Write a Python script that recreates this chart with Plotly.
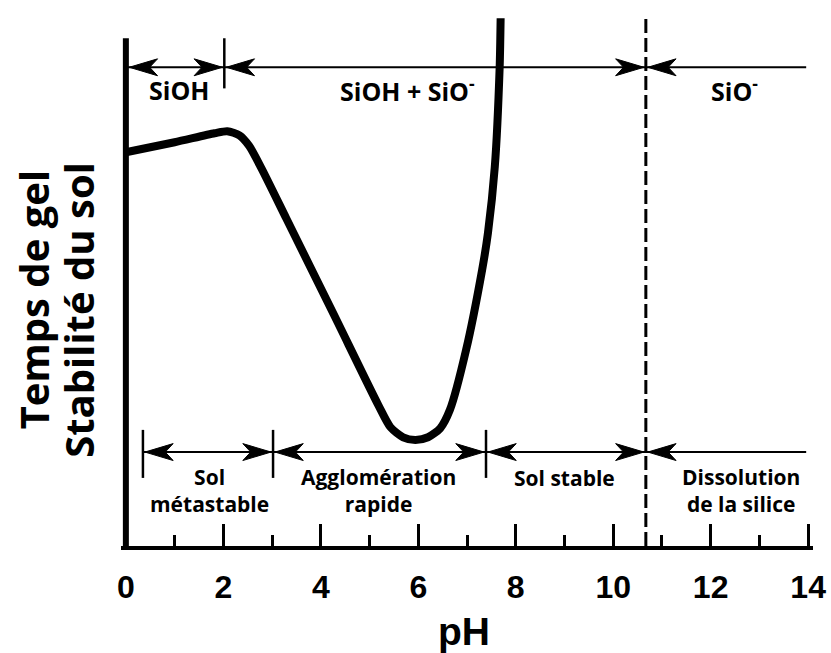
import plotly.graph_objects as go

# ---------------- data ----------------
ph = [0.0, 1.0, 1.82, 2.08, 2.33, 2.53, 2.78, 3.29, 4.27, 5.18, 5.43, 5.69, 5.94,
      6.20, 6.45, 6.65, 6.98, 7.31, 7.43, 7.57, 7.67, 7.69]
stability = [74.6, 76.5, 78.2, 78.6, 77.8, 75.8, 71.6, 62.1, 43.8, 26.7, 22.5, 20.6, 20.1,
             20.6, 22.3, 25.8, 37.1, 52.3, 59.3, 71.8, 90.7, 100.0]

x_major_ticks = [0, 2, 4, 6, 8, 10, 12, 14]
x_tick_labels = ["0", "2", "4", "6", "8", "10", "12", "14"]
x_minor_ticks = [1, 3, 5, 7, 9, 11, 13]

species_bounds = [0.0, 2.02, 10.67]
species_labels = ["SiOH", "SiOH + SiO<sup>-</sup>", "SiO<sup>-</sup>"]
species_label_ph = [1.08, 5.78, 12.49]

regime_bounds = [0.35, 3.02, 7.39, 10.67]
regime_labels = ["Sol<br>métastable", "Agglomération<br>rapide", "Sol stable",
                 "Dissolution<br>de la silice"]
regime_label_ph = [1.71, 5.18, 9.0, 12.63]
regime_label_y = [10.6, 10.6, 12.8, 10.6]

y_title_lines = ["Temps de gel", "Stabilité du sol"]
x_title = "pH"

pka_ph = 10.67
line_end_ph = 13.96

# ---------------- layout constants ----------------
TOP_Y = 90.7
TOP_LABEL_Y = 86.4
TOP_TICK = (86.7, 96.2)
BOT_Y = 17.8
BOT_TICK = (12.9, 22.0)
AXIS_TOP = 96.2

HEAD_L = 0.58   # pH units
HEAD_H = 1.6    # y units
GAP = 0.04

LABEL_FONT = dict(family="Open Sans, Lato, sans-serif", color="black", weight="bold")
ARIAL_BOLD = dict(family="Liberation Sans, Arial", color="black", weight="bold")

fig = go.Figure()

fig.add_trace(go.Scatter(
    x=ph, y=stability, mode="lines",
    line=dict(color="black", width=8, shape="spline", smoothing=0.7),
    hoverinfo="skip", showlegend=False,
))

shapes = []
annotations = []


def head(xtip, y, d):
    return dict(
        type="path", xref="x", yref="y",
        path=(f"M{xtip},{y} L{xtip - d * HEAD_L},{y + HEAD_H} "
              f"L{xtip - d * 0.72 * HEAD_L},{y} L{xtip - d * HEAD_L},{y - HEAD_H} Z"),
        fillcolor="black", line=dict(color="black", width=1),
    )


def arrow_row(bounds, y, tick):
    shapes.append(dict(type="line", xref="x", yref="y", x0=bounds[0], x1=line_end_ph,
                       y0=y, y1=y, line=dict(color="black", width=2)))
    for i, b in enumerate(bounds):
        gap = 0.07 if b == 0 else GAP
        shapes.append(head(b + gap, y, -1))
        if i > 0:
            shapes.append(head(b - GAP, y, 1))
        if b != 0 and b != pka_ph:
            shapes.append(dict(type="line", xref="x", yref="y", x0=b, x1=b,
                               y0=tick[0], y1=tick[1], line=dict(color="black", width=2.5)))


arrow_row(species_bounds, TOP_Y, TOP_TICK)
arrow_row(regime_bounds, BOT_Y, BOT_TICK)

# left axis line
shapes.append(dict(type="line", xref="x", yref="y", x0=0, x1=0, y0=0, y1=AXIS_TOP,
                   line=dict(color="black", width=6)))
# dashed pKa line
shapes.append(dict(type="line", xref="x", yref="y", x0=pka_ph, x1=pka_ph, y0=0, y1=100,
                   line=dict(color="black", width=3, dash="14px,5px")))

for lab, xp in zip(species_labels, species_label_ph):
    annotations.append(dict(x=xp, y=TOP_LABEL_Y, xref="x", yref="y", text=lab,
                            showarrow=False, font=dict(size=25, **LABEL_FONT)))

for lab, xp, yp in zip(regime_labels, regime_label_ph, regime_label_y):
    annotations.append(dict(x=xp, y=yp, xref="x", yref="y", text=lab,
                            showarrow=False, font=dict(size=21, **LABEL_FONT)))

# y title (two rotated lines)
annotations.append(dict(x=-0.1265, y=0.455, xref="paper", yref="paper", text=y_title_lines[0],
                        xanchor="center", yanchor="middle",
                        textangle=-90, showarrow=False, font=dict(size=40, **LABEL_FONT)))
annotations.append(dict(x=-0.0625, y=0.436, xref="paper", yref="paper", text=y_title_lines[1],
                        xanchor="center", yanchor="middle",
                        textangle=-90, showarrow=False, font=dict(size=40, **LABEL_FONT)))
# x title
annotations.append(dict(x=0.4957, y=-0.158, xref="paper", yref="paper", text=x_title,
                        xanchor="center", yanchor="middle",
                        showarrow=False, font=dict(size=39, **ARIAL_BOLD)))

fig.update_layout(
    width=831, height=653,
    margin=dict(l=121, r=14, t=5, b=107),
    paper_bgcolor="white", plot_bgcolor="white",
    shapes=shapes, annotations=annotations,
    showlegend=False,
    xaxis=dict(
        range=[-0.1, 14.1], showgrid=False, zeroline=False,
        tickvals=x_major_ticks, ticktext=x_tick_labels,
        ticks="inside", ticklen=22, tickwidth=3, tickcolor="black",
        showline=True, linewidth=4, linecolor="black",
        ticklabelstandoff=10,
        tickfont=dict(size=32, **ARIAL_BOLD),
        minor=dict(tickvals=x_minor_ticks, ticks="inside", ticklen=11,
                   tickwidth=3, tickcolor="black"),
        fixedrange=True,
    ),
    yaxis=dict(range=[0, 102.5], visible=False, showgrid=False, zeroline=False,
               fixedrange=True),
)

fig.write_html("out.html", config={"displayModeBar": False},
               post_script="document.body.style.margin='0';document.body.style.padding='0';")
